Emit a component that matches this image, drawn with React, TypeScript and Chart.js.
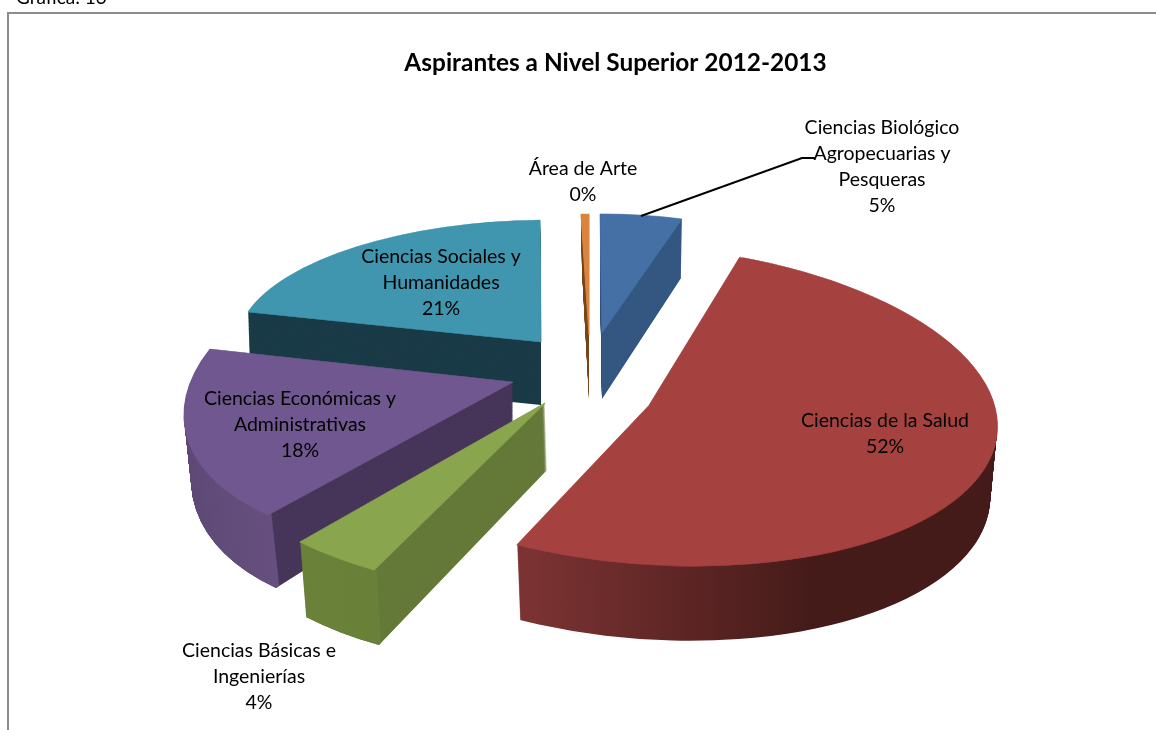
import React, { useEffect, useRef } from "react";
import { Chart, registerables } from "chart.js";

Chart.register(...registerables);

const chartTitle = "Aspirantes a Nivel Superior 2012-2013";
const captionText = "Gráfica: 13";
const categories = [
  "Ciencias Biológico Agropecuarias y Pesqueras",
  "Ciencias de la Salud",
  "Ciencias Básicas e Ingenierías",
  "Ciencias Económicas y Administrativas",
  "Ciencias Sociales y Humanidades",
  "Área de Arte",
];
const values = [4.8, 52, 4.2, 18, 20.6, 0.4];
const labelLines = [
  ["Ciencias Biológico", "Agropecuarias y", "Pesqueras"],
  ["Ciencias de la Salud"],
  ["Ciencias Básicas e", "Ingenierías"],
  ["Ciencias Económicas y", "Administrativas"],
  ["Ciencias Sociales y", "Humanidades"],
  ["Área de Arte"],
];
const topColors = ["#4570a6", "#a54240", "#89a54e", "#71578f", "#4096af", "#db843d"];

type A = [number | null, number, number];
const FONT = "Lato, 'Open Sans', sans-serif";
const LABEL_SIZE = 19.5;
const LINE_H = 26;

// per-slice projection, a stand-in for the 3-D perspective
const geometry: Record<number, any> = {
  0: {
    top: [[null, 602, 333], [0, 600, 214], [1, 682, 219]],
    bot: [[null, 602, 399], [0, 600, 275], [1, 681, 278]],
    side: "#345782",
  },
  1: {
    top: [[0, 740, 257], [0.388, 997, 420], [1, 517, 545]],
    bot: [[0, 737, 325], [0.388, 990, 490], [1, 520, 620]],
    ringOnly: true,
    ring: [[0, "#7a3232"], [0.315, "#7a3232"], [0.717, "#451b19"], [1, "#451b19"]],
  },
  2: {
    top: [[null, 545, 403], [0, 374, 570], [1, 300, 542]],
    bot: [[null, 547, 470], [0, 379, 645], [1, 306, 617]],
    side: "#647938",
    ring: [[0, "#6a8239"], [1, "#667c38"]],
  },
  3: {
    top: [[null, 513, 382], [0, 268, 515], [1, 210, 349]],
    bot: [[null, 513, 438], [0, 276, 588], [1, 215, 410]],
    side: "#47365a",
    ring: [[0, "#5d4875"], [0.2, "#67507f"], [1, "#67507f"]],
  },
  4: {
    top: [[null, 541, 342], [0, 248, 312], [1, 540, 220]],
    bot: [[null, 541, 405], [0, 250, 375], [1, 540, 283]],
    side: "#1a3b47",
  },
  5: {
    top: [[null, 589, 335], [0, 581, 214], [1, 589, 214]],
    bot: [[null, 589, 399], [0, 582, 270], [1, 589, 270]],
    side: "#7a4a1e",
  },
};
const drawOrder = [4, 5, 0, 3, 1, 2];
const labelPos: Record<number, [number, number]> = {
  0: [882, 128],
  1: [885, 421],
  2: [259, 651],
  3: [300, 399],
  4: [441, 257],
  5: [583, 169],
};

function det(m: number[][]) {
  return (
    m[0][0] * (m[1][1] * m[2][2] - m[1][2] * m[2][1]) -
    m[0][1] * (m[1][0] * m[2][2] - m[1][2] * m[2][0]) +
    m[0][2] * (m[1][0] * m[2][1] - m[1][1] * m[2][0])
  );
}
function solve(rows: number[][], rhs: number[]) {
  const d = det(rows);
  return [0, 1, 2].map((c) => det(rows.map((r, i) => r.map((v, j) => (j === c ? rhs[i] : v)))) / d);
}
function fit(anchors: A[], start: number, circ: number) {
  const rows = anchors.map(([f]) => {
    if (f === null) return [1, 0, 0];
    const th = start + Math.PI / 2 + f * circ;
    return [1, Math.sin(th), Math.cos(th)];
  });
  return {
    x: solve(rows, anchors.map((a) => a[1])),
    y: solve(rows, anchors.map((a) => a[2])),
  };
}
const baseOpts = { borderWidth: 0, borderColor: "transparent", offset: 0, spacing: 0, borderAlign: "center", circular: true, borderRadius: 0 };

const piePlugin = {
  id: "pie3d",
  beforeDraw(chart: any) {
    const ctx = chart.ctx;
    ctx.save();
    ctx.fillStyle = "#fff";
    ctx.fillRect(0, 0, chart.width, chart.height);
    ctx.strokeStyle = "#8c8c8c";
    ctx.lineWidth = 2;
    ctx.beginPath();
    ctx.moveTo(8, 730);
    ctx.lineTo(8, 13);
    ctx.lineTo(1156, 13);
    ctx.stroke();
    ctx.restore();
  },
  beforeDatasetDraw(chart: any) {
    const ctx = chart.ctx;
    const arcs = chart.getDatasetMeta(0).data;
    const STEPS = 100;
    for (const i of drawOrder) {
      const arc = arcs[i];
      const g = geometry[i];
      const R = arc.outerRadius;
      const x0 = arc.x;
      const y0 = arc.y;
      const circ = arc.endAngle - arc.startAngle;
      const T = fit(g.top, arc.startAngle, circ);
      const B = fit(g.bot, arc.startAngle, circ);
      const paint = (t: number) => {
        const l = (p: number[], q: number[], k: number) => q[k] + (p[k] - q[k]) * t;
        ctx.save();
        ctx.translate(l(B.x, T.x, 0), l(B.y, T.y, 0));
        ctx.transform(l(B.x, T.x, 1) / R, l(B.y, T.y, 1) / R, -l(B.x, T.x, 2) / R, -l(B.y, T.y, 2) / R, 0, 0);
        ctx.translate(-x0, -y0);
        arc.draw(ctx);
        ctx.restore();
      };
      const savedInner = arc.innerRadius;
      const savedOpts = arc.options;
      if (!g.ringOnly) {
        arc.options = { ...baseOpts, backgroundColor: g.side };
        for (let s = STEPS; s > 0; s--) paint(s / STEPS);
      }
      if (g.ring) {
        const grad = ctx.createLinearGradient(x0 - R, 0, x0 + R, 0);
        for (const [p, c] of g.ring) grad.addColorStop(p, c);
        arc.options = { ...baseOpts, backgroundColor: grad };
        arc.innerRadius = R * 0.985;
        for (let s = STEPS; s > 0; s--) paint(s / STEPS);
        arc.innerRadius = savedInner;
      }
      arc.options = { ...baseOpts, backgroundColor: topColors[i], borderColor: topColors[i], borderWidth: 1.2, borderJoinStyle: "bevel" };
      paint(0);
      arc.options = savedOpts;
    }
    return false;
  },
  afterDraw(chart: any) {
    const ctx = chart.ctx;
    ctx.save();
    ctx.strokeStyle = "#000";
    ctx.lineWidth = 2;
    ctx.beginPath();
    ctx.moveTo(641, 216);
    ctx.lineTo(802, 158);
    ctx.lineTo(815, 158);
    ctx.stroke();
    ctx.fillStyle = "#000";
    ctx.textAlign = "center";
    ctx.textBaseline = "middle";
    ctx.font = `bold 24.4px ${FONT}`;
    ctx.fillText(chartTitle, 615.5, 63);
    ctx.font = `${LABEL_SIZE}px ${FONT}`;
    values.forEach((v, i) => {
      const [x, y] = labelPos[i];
      const lines = [...labelLines[i], `${Math.round(v)}%`];
      lines.forEach((s, k) => ctx.fillText(s, x, y + k * LINE_H));
    });
    ctx.textAlign = "left";
    ctx.font = `19px ${FONT}`;
    ctx.fillText(captionText, 16, -2);
    ctx.restore();
  },
};

export default function App() {
  const ref = useRef<HTMLCanvasElement>(null);
  useEffect(() => {
    document.body.style.margin = "0";
    const chart = new Chart(ref.current!, {
      type: "pie",
      data: {
        labels: categories,
        datasets: [{ data: values, backgroundColor: topColors, borderWidth: 0 }],
      },
      options: {
        animation: false,
        responsive: false,
        devicePixelRatio: 1,
        plugins: { legend: { display: false }, tooltip: { enabled: false } },
      },
      plugins: [piePlugin],
    } as any);
    return () => chart.destroy();
  }, []);
  return <canvas ref={ref} width={1156} height={730} style={{ display: "block" }} />;
}
